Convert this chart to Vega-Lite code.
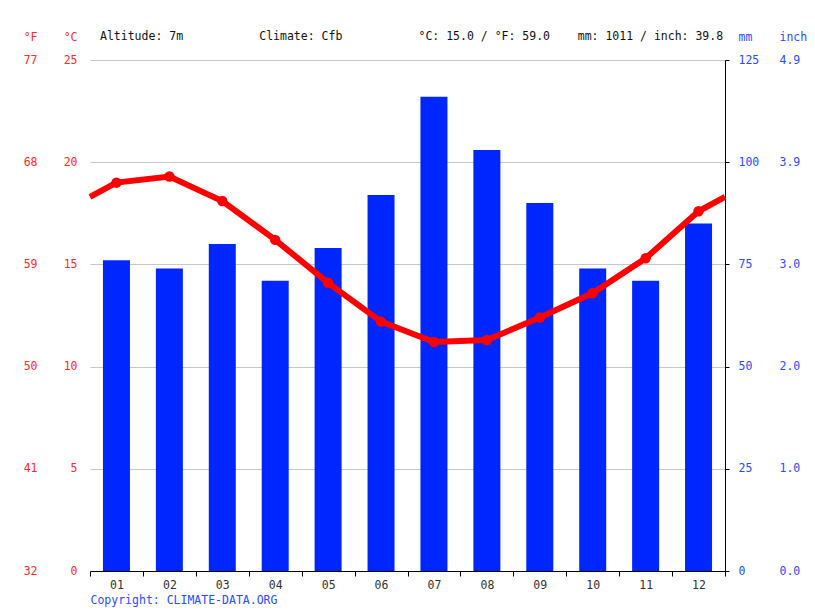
{
  "$schema": "https://vega.github.io/schema/vega-lite/v6.json",
  "autosize": "none",
  "width": 635,
  "height": 511,
  "padding": {"left": 90, "top": 60, "right": 90, "bottom": 40},
  "background": "white",
  "config": {
    "font": "DejaVu Sans Mono",
    "view": {"stroke": null},
    "axis": {"labelFontSize": 11.5, "titleFontSize": 11.5, "titleFontWeight": "normal", "labelFont": "DejaVu Sans Mono", "titleFont": "DejaVu Sans Mono"}
  },
  "title": {
    "text": "Altitude: 7m\u00a0\u00a0\u00a0\u00a0\u00a0\u00a0\u00a0\u00a0\u00a0\u00a0\u00a0Climate: Cfb\u00a0\u00a0\u00a0\u00a0\u00a0\u00a0\u00a0\u00a0\u00a0\u00a0\u00a0°C: 15.0 / °F: 59.0\u00a0\u00a0\u00a0\u00a0mm: 1011 / inch: 39.8",
    "anchor": "start",
    "frame": "group",
    "dx": 10,
    "dy": 28,
    "offset": 17,
    "font": "DejaVu Sans Mono",
    "fontSize": 11.5,
    "fontWeight": "normal",
    "color": "#111111"
  },
  "datasets": {
    "months": [
      {"m": 1, "mm": 76, "t": 19.0},
      {"m": 2, "mm": 74, "t": 19.3},
      {"m": 3, "mm": 80, "t": 18.1},
      {"m": 4, "mm": 71, "t": 16.2},
      {"m": 5, "mm": 79, "t": 14.1},
      {"m": 6, "mm": 92, "t": 12.2},
      {"m": 7, "mm": 116, "t": 11.2},
      {"m": 8, "mm": 103, "t": 11.3},
      {"m": 9, "mm": 90, "t": 12.4},
      {"m": 10, "mm": 74, "t": 13.6},
      {"m": 11, "mm": 71, "t": 15.3},
      {"m": 12, "mm": 85, "t": 17.6}
    ],
    "line": [
      {"m": 0.5, "t": 18.3},
      {"m": 1, "t": 19.0},
      {"m": 2, "t": 19.3},
      {"m": 3, "t": 18.1},
      {"m": 4, "t": 16.2},
      {"m": 5, "t": 14.1},
      {"m": 6, "t": 12.2},
      {"m": 7, "t": 11.2},
      {"m": 8, "t": 11.3},
      {"m": 9, "t": 12.4},
      {"m": 10, "t": 13.6},
      {"m": 11, "t": 15.3},
      {"m": 12, "t": 17.6},
      {"m": 12.5, "t": 18.3}
    ]
  },
  "encoding": {
    "x": {
      "field": "m",
      "type": "quantitative",
      "scale": {"domain": [0.5, 12.5], "nice": false, "zero": false, "padding": 0},
      "axis": {
        "values": [0.5, 1.5, 2.5, 3.5, 4.5, 5.5, 6.5, 7.5, 8.5, 9.5, 10.5, 11.5, 12.5],
        "labelExpr": "datum.value < 12 ? (datum.value < 9 ? '0' : '') + format(datum.value + 0.5, 'd') : ''",
        "labelOffset": 26.46,
        "labelFlush": false,
        "labelOverlap": false,
        "labelColor": "#333333",
        "labelPadding": 3,
        "tickSize": 5,
        "tickColor": "black",
        "domainColor": "black",
        "grid": false,
        "title": "Copyright: CLIMATE-DATA.ORG",
        "titleAnchor": "start",
        "titleAlign": "left",
        "titleColor": "#2a4cff",
        "titlePadding": 4
      }
    }
  },
  "layer": [
    {
      "data": {"name": "months"},
      "mark": {"type": "point", "opacity": 0},
      "encoding": {
        "y": {
          "field": "t",
          "type": "quantitative",
          "scale": {"domain": [0, 25], "nice": false, "zero": false},
          "axis": {
            "orient": "left",
            "offset": 40,
            "values": [0, 5, 10, 15, 20, 25],
            "labelExpr": "format(datum.value * 9 / 5 + 32, 'd')",
            "grid": false,
            "domain": false,
            "ticks": false,
            "labelPadding": 13,
            "labelColor": "#ff2a2a",
            "title": "°F",
            "titleAngle": 0,
            "titleAlign": "right",
            "titleBaseline": "alphabetic",
            "titleX": -13,
            "titleY": -20,
            "titleColor": "#ff2a2a"
          }
        }
      }
    },
    {
      "data": {"name": "months"},
      "mark": {"type": "bar", "size": 27, "color": "#0026ff"},
      "encoding": {
        "y": {
          "field": "mm",
          "type": "quantitative",
          "scale": {"domain": [0, 125], "nice": false},
          "axis": {
            "orient": "right",
            "values": [0, 25, 50, 75, 100, 125],
            "grid": false,
            "domainColor": "black",
            "tickColor": "black",
            "tickSize": 4,
            "labelPadding": 9,
            "labelColor": "#2a4cff",
            "title": "mm",
            "titleAngle": 0,
            "titleAlign": "left",
            "titleBaseline": "alphabetic",
            "titleX": 13,
            "titleY": -20,
            "titleColor": "#2a4cff"
          }
        }
      }
    },
    {
      "data": {"name": "months"},
      "mark": {"type": "bar", "size": 27, "opacity": 0},
      "encoding": {
        "y": {
          "field": "mm",
          "type": "quantitative",
          "scale": {"domain": [0, 125], "nice": false},
          "axis": {
            "orient": "right",
            "offset": 41,
            "values": [0, 25, 50, 75, 100, 125],
            "labelExpr": "format(datum.value / 25.4, '.1f')",
            "grid": false,
            "domain": false,
            "ticks": false,
            "labelPadding": 13,
            "labelColor": "#2a4cff",
            "title": "inch",
            "titleAngle": 0,
            "titleAlign": "left",
            "titleBaseline": "alphabetic",
            "titleX": 13,
            "titleY": -20,
            "titleColor": "#2a4cff"
          }
        }
      }
    },
    {
      "data": {"name": "line"},
      "mark": {"type": "line", "color": "#ff0000", "strokeWidth": 6},
      "encoding": {
        "y": {
          "field": "t",
          "type": "quantitative",
          "scale": {"domain": [0, 25], "nice": false, "zero": false},
          "axis": {
            "orient": "left",
            "values": [0, 5, 10, 15, 20, 25],
            "grid": true,
            "gridColor": "#c8c8c8",
            "gridWidth": 1,
            "domain": false,
            "ticks": false,
            "labelPadding": 13,
            "labelColor": "#ff2a2a",
            "title": "°C",
            "titleAngle": 0,
            "titleAlign": "right",
            "titleBaseline": "alphabetic",
            "titleX": -13,
            "titleY": -20,
            "titleColor": "#ff2a2a"
          }
        }
      }
    },
    {
      "data": {"name": "months"},
      "mark": {"type": "circle", "color": "#ff0000", "opacity": 1, "size": 110},
      "encoding": {
        "y": {
          "field": "t",
          "type": "quantitative",
          "scale": {"domain": [0, 25], "nice": false, "zero": false},
          "axis": null
        }
      }
    }
  ],
  "resolve": {"scale": {"y": "independent"}, "axis": {"y": "independent"}}
}
